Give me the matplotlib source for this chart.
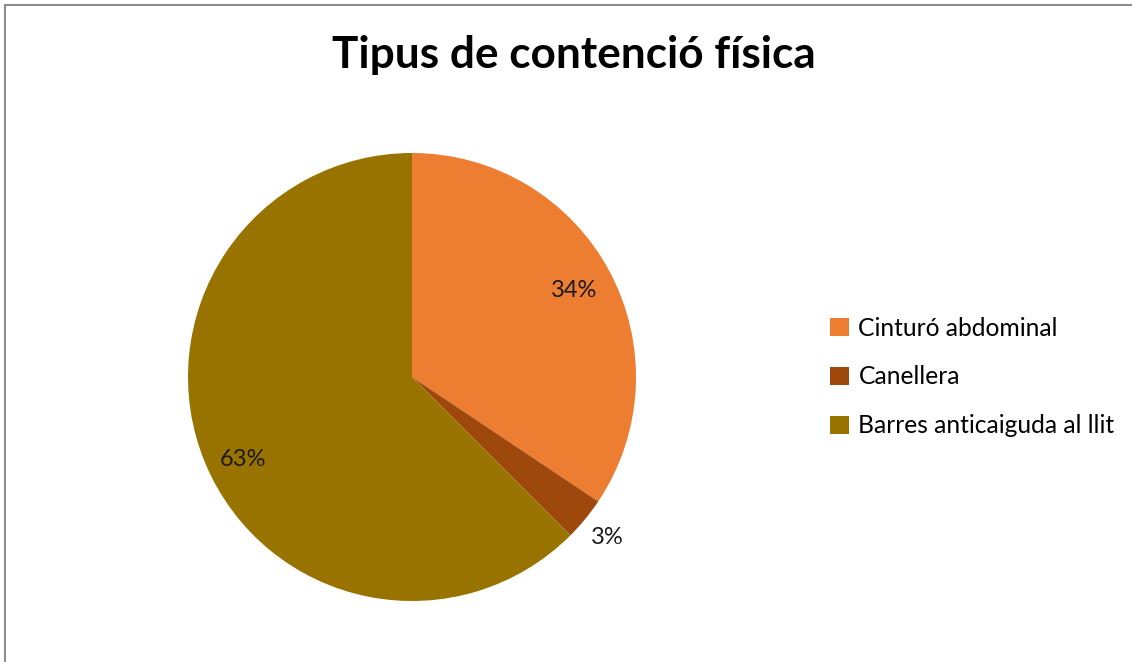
import numpy as np
import matplotlib
matplotlib.use("Agg")
import matplotlib.pyplot as plt
from matplotlib.patches import Rectangle

# data
labels = ["Cinturó abdominal", "Canellera", "Barres anticaiguda al llit"]
counts = [11, 1, 20]
colors = ["#ED7D31", "#9E480E", "#997300"]

plt.rcParams['font.family'] = ['Lato', 'DejaVu Sans']

W, H = 1132, 662
fig = plt.figure(figsize=(W / 100, H / 100), dpi=100)

# chart frame
fig.patches.append(Rectangle((5 / W, -0.01), 1.1, 1 - 5 / H + 0.01, transform=fig.transFigure,
                             fill=False, edgecolor="#8c8c8c", linewidth=1.5))

ax = fig.add_axes([188 / W, (H - 601) / H, 448 / W, 448 / H])
wedges, _ = ax.pie(counts, colors=colors, startangle=90, counterclock=False,
                   wedgeprops=dict(linewidth=0))
ax.set_xlim(-1, 1)
ax.set_ylim(-1, 1)
ax.set_aspect("equal")

total = sum(counts)
dist = [0.82, 1.13, 0.84]
nudge = [0, 0, 3.5]  # degrees
for w, c, d, n in zip(wedges, counts, dist, nudge):
    ang = np.deg2rad((w.theta1 + w.theta2) / 2 + n)
    pct = int(100 * c / total + 0.5)
    ax.text(d * np.cos(ang), d * np.sin(ang), "%d%%" % pct,
            ha="center", va="center", fontsize=17, color="#1a1a1a")

fig.text(574 / W, 1 - 55 / H, "Tipus de contenció física", ha="center", va="center",
         fontsize=31.8, fontweight="bold", color="black")

ax.legend(wedges, labels, loc="center left", bbox_to_anchor=(808 / W, 1 - 377 / H),
          bbox_transform=fig.transFigure, frameon=False, fontsize=17.7,
          handlelength=0.75, handleheight=0.75, handletextpad=0.4, labelspacing=1.05)

fig.savefig("out.png", dpi=100)
